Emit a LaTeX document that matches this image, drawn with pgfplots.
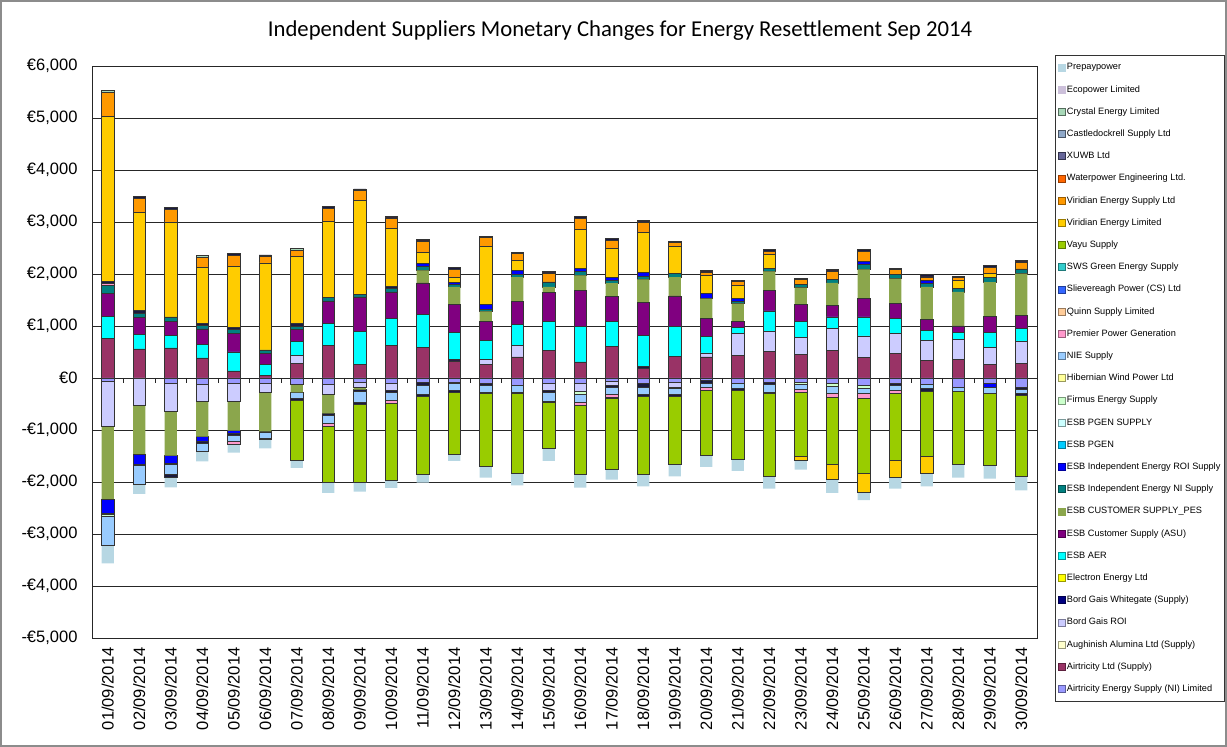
\documentclass[border=0pt]{standalone}
\usepackage{pgfplots}
\pgfplotsset{compat=1.18}
\usepackage{pgfplotstable}
\usepackage{fontspec}
\setmainfont{Liberation Sans}
\newfontfamily\titlefont{Carlito}

\definecolor{cAN}{HTML}{9999FF}
\definecolor{cAL}{HTML}{993366}
\definecolor{cAU}{HTML}{FFFFCC}
\definecolor{cBG}{HTML}{CCCCFF}
\definecolor{cBW}{HTML}{000080}
\definecolor{cEL}{HTML}{FFFF00}
\definecolor{cAER}{HTML}{00FFFF}
\definecolor{cASU}{HTML}{800080}
\definecolor{cPES}{HTML}{8BA64C}
\definecolor{cNI}{HTML}{008080}
\definecolor{cROI}{HTML}{0000FF}
\definecolor{cPG}{HTML}{00CCFF}
\definecolor{cPGS}{HTML}{CCFFFF}
\definecolor{cFI}{HTML}{CCFFCC}
\definecolor{cHI}{HTML}{FFFF99}
\definecolor{cNIE}{HTML}{99CCFF}
\definecolor{cPR}{HTML}{FF99CC}
\definecolor{cQU}{HTML}{FFCC99}
\definecolor{cSL}{HTML}{3366FF}
\definecolor{cSWS}{HTML}{33CCCC}
\definecolor{cVA}{HTML}{99CC00}
\definecolor{cVEL}{HTML}{FFCC00}
\definecolor{cVES}{HTML}{FF9900}
\definecolor{cWP}{HTML}{FF6600}
\definecolor{cXU}{HTML}{666699}
\definecolor{cCA}{HTML}{8FA8C8}
\definecolor{cCR}{HTML}{A8D8B8}
\definecolor{cEC}{HTML}{CCC0DA}
\definecolor{cPP}{HTML}{B7D7E3}
\definecolor{cDK}{HTML}{1A1A40}

\pgfplotstableread{
d AL BG DA AER ASU PES NI ROI PR DB VEL VES CR TOP
1 756 0 0 436 442 0 147 0 45 32 3173 468 25 0
2 558 0 0 288 321 0 70 0 0 64 1891 269 0 32
3 577 0 0 244 269 0 83 0 0 0 1827 244 0 32
4 385 0 0 263 295 0 64 0 0 38 1077 199 38 0
5 135 0 0 365 365 0 70 0 0 38 1173 212 0 32
6 45 0 0 212 218 0 64 0 0 0 1673 128 0 26
7 288 147 0 269 237 0 51 0 0 51 1288 122 45 0
8 628 0 0 417 436 0 64 0 0 0 1474 250 0 32
9 263 0 0 635 660 0 51 0 0 0 1808 192 0 26
10 628 0 0 513 513 0 64 0 0 51 1103 205 0 26
11 583 0 0 635 609 244 77 51 0 0 212 224 0 32
12 327 0 26 519 545 333 51 45 0 0 96 141 0 38
13 256 103 0 365 365 192 45 83 0 0 1122 167 0 32
14 404 224 0 404 442 468 51 77 0 0 192 128 0 32
15 532 0 0 558 558 103 96 0 0 0 0 173 0 32
16 308 0 0 686 692 288 77 51 0 0 750 224 0 32
17 609 0 0 487 474 256 51 51 0 0 558 160 0 32
18 192 0 32 596 628 449 58 71 0 0 769 205 0 32
19 417 0 0 577 583 365 64 0 0 0 532 64 0 26
20 404 77 0 321 340 385 0 96 0 0 353 64 0 26
21 436 417 0 115 128 333 51 58 0 0 244 77 0 19
22 513 385 0 391 397 365 64 0 0 0 256 71 0 26
23 455 321 0 314 321 327 64 0 0 0 0 90 0 19
24 532 417 0 224 218 436 71 0 0 0 0 160 0 26
25 391 417 0 365 365 551 96 58 0 0 0 192 0 32
26 468 385 0 288 288 481 83 0 0 0 0 90 0 19
27 340 385 0 192 212 622 64 64 0 0 0 64 0 51
28 359 378 0 141 122 654 64 0 0 0 160 64 0 13
29 263 333 0 276 314 660 83 0 0 0 90 115 0 32
30 288 417 0 244 256 801 90 0 0 0 0 135 0 32
}\pos

\pgfplotstableread{
d AN BG PES ROI KA FI NIE PR KB VA VEL PP
1 -64 -872 -1391 -269 -19 -51 -558 0 0 0 0 -340
2 0 -519 -942 -192 -32 0 -353 0 0 0 0 -192
3 -103 -538 -853 -147 -26 0 -192 0 -51 0 0 -192
4 -128 -327 -673 -96 -32 0 -160 0 0 0 0 -186
5 -103 -353 -558 -51 -32 0 -128 -45 0 0 0 -167
6 -103 -173 -750 0 -19 0 -109 0 -32 0 0 -167
7 -128 0 -147 0 0 0 -115 0 -45 -1141 0 -154
8 -115 -205 -359 0 -45 0 -147 -64 0 -1070 0 -205
9 -77 -96 -51 0 -38 0 -205 0 -45 -1494 0 -179
10 -96 -141 0 0 -32 0 -160 -51 -13 -1474 0 -147
11 -90 0 0 0 -51 0 -173 0 -38 -1506 0 -154
12 -77 0 0 0 -32 0 -128 0 -38 -1192 0 -128
13 -109 0 0 0 -32 0 -128 0 -32 -1397 0 -218
14 -141 0 0 0 0 0 -128 0 -32 -1526 0 -237
15 -109 -128 0 0 -38 0 -167 0 -26 -878 0 -250
16 -96 -154 0 0 0 -64 -147 -64 0 -1327 0 -256
17 -58 -83 0 0 -32 0 -141 -51 -19 -1378 0 -192
18 -109 0 0 0 -64 0 -141 0 -38 -1500 0 -231
19 -77 -96 0 0 -32 0 -109 0 -38 -1314 0 -224
20 -45 0 0 0 -51 0 -77 -64 0 -1250 0 -224
21 -96 0 0 0 0 0 -109 0 -32 -1333 0 -218
22 -77 0 0 0 -45 0 -147 0 -32 -1590 0 -237
23 -77 0 0 0 0 -45 -96 -51 0 -1237 -77 -179
24 -109 0 0 0 0 -51 -141 -64 0 -1301 -282 -263
25 -141 0 0 0 0 -51 -96 -96 0 -1442 -365 -160
26 -96 0 0 0 -45 0 -96 -51 0 -1295 -321 -224
27 -122 0 0 0 0 0 -83 0 -45 -1256 -321 -256
28 -173 0 0 0 0 0 -77 0 0 -1410 0 -256
29 -109 0 0 -77 0 0 -103 0 0 -1391 0 -256
30 -173 0 0 0 -51 0 -77 0 -32 -1558 0 -269
}\neg

\pgfplotsset{
  bb/.style={draw=black!80, line width=0.7pt},
  nb/.style={draw=none},
  common/.style={at={(92pt,109pt)}, anchor=south west, scale only axis,
    width=945pt, height=572pt, xmin=0.5, xmax=30.5, ymin=-5000, ymax=6000},
}
% legend square: fill colour, border colour
\newcommand{\legsq}[2]{\addlegendimage{legend image code/.code={\filldraw[fill=#1,draw=#2,line width=0.6pt] (0pt,-3.5pt) rectangle (7pt,3.5pt);}}}

\begin{document}
\begin{tikzpicture}
\useasboundingbox (0pt,0pt) rectangle (1227pt,747pt);
\draw[black!45, line width=1.5pt] (1pt,1pt) rectangle (1226pt,746pt);
\node[font=\titlefont\fontsize{22.7}{26}\selectfont] at (620pt,716pt) {Independent Suppliers Monetary Changes for Energy Resettlement Sep 2014};

% positive stack + axis
\begin{axis}[common,
  ybar stacked, bar width=12.3pt,
  ytick={-5000,-4000,...,6000},
  yticklabels={{-€5,000},{-€4,000},{-€3,000},{-€2,000},{-€1,000},{€0},{€1,000},{€2,000},{€3,000},{€4,000},{€5,000},{€6,000}},
  xtick={1,...,30},
  xticklabels={01/09/2014,02/09/2014,03/09/2014,04/09/2014,05/09/2014,06/09/2014,07/09/2014,08/09/2014,09/09/2014,10/09/2014,11/09/2014,12/09/2014,13/09/2014,14/09/2014,15/09/2014,16/09/2014,17/09/2014,18/09/2014,19/09/2014,20/09/2014,21/09/2014,22/09/2014,23/09/2014,24/09/2014,25/09/2014,26/09/2014,27/09/2014,28/09/2014,29/09/2014,30/09/2014},
  xticklabel style={rotate=90, anchor=east, font=\fontsize{16.5}{17}\selectfont},
  yticklabel style={font=\fontsize{16.5}{17}\selectfont},
  xticklabel shift=6pt, yticklabel shift=11pt,
  major tick length=0pt,
  ymajorgrids, grid style={black!85, line width=0.9pt},
  axis line style={black!85, line width=0.9pt},
]
\addplot[bb, fill=cAL] table[x=d,y=AL]{\pos};
\addplot[bb, fill=cBG] table[x=d,y=BG]{\pos};
\addplot[bb, fill=cDK] table[x=d,y=DA]{\pos};
\addplot[bb, fill=cAER] table[x=d,y=AER]{\pos};
\addplot[bb, fill=cASU] table[x=d,y=ASU]{\pos};
\addplot[nb, fill=cPES] table[x=d,y=PES]{\pos};
\addplot[bb, fill=cNI] table[x=d,y=NI]{\pos};
\addplot[bb, fill=cROI] table[x=d,y=ROI]{\pos};
\addplot[bb, fill=cPR] table[x=d,y=PR]{\pos};
\addplot[bb, fill=cDK] table[x=d,y=DB]{\pos};
\addplot[bb, fill=cVEL] table[x=d,y=VEL]{\pos};
\addplot[bb, fill=cVES] table[x=d,y=VES]{\pos};
\addplot[bb, fill=cCR] table[x=d,y=CR]{\pos};
\addplot[bb, fill=cDK] table[x=d,y=TOP]{\pos};
\pgfplotsinvokeforeach{1,...,29}{
  \draw[black!85, line width=0.9pt] (axis cs:#1.5,0) -- ++(0pt,-5pt);
}
\end{axis}

% negative stack
\begin{axis}[common, hide axis, ybar stacked, bar width=12.3pt]
\addplot[bb, fill=cAN] table[x=d,y=AN]{\neg};
\addplot[bb, fill=cBG] table[x=d,y=BG]{\neg};
\addplot[nb, fill=cPES] table[x=d,y=PES]{\neg};
\addplot[bb, fill=cROI] table[x=d,y=ROI]{\neg};
\addplot[bb, fill=cDK] table[x=d,y=KA]{\neg};
\addplot[bb, fill=cFI] table[x=d,y=FI]{\neg};
\addplot[bb, fill=cNIE] table[x=d,y=NIE]{\neg};
\addplot[bb, fill=cPR] table[x=d,y=PR]{\neg};
\addplot[bb, fill=cDK] table[x=d,y=KB]{\neg};
\addplot[bb, fill=cVA] table[x=d,y=VA]{\neg};
\addplot[bb, fill=cVEL] table[x=d,y=VEL]{\neg};
\addplot[nb, fill=cPP] table[x=d,y=PP]{\neg};
\end{axis}

% legend
\begin{axis}[at={(92pt,109pt)}, anchor=south west, scale only axis,
  width=945pt, height=572pt, hide axis, xmin=0, xmax=1, ymin=0, ymax=1,
  legend cell align=left,
  legend style={at={(1.019,1.0192)}, anchor=north west, draw=black!80, line width=0.8pt,
    font=\fontsize{9.2}{10}\selectfont, row sep=12.2pt, inner xsep=3pt, inner ysep=7pt,
    nodes={inner sep=1pt, text height=6.5pt, text depth=1.5pt}},
]
\legsq{cPP}{cPP}\addlegendentry{Prepaypower}
\legsq{cEC}{cEC}\addlegendentry{Ecopower Limited}
\legsq{cCR}{cCR!50!black}\addlegendentry{Crystal Energy Limited}
\legsq{cCA}{cCA!50!black}\addlegendentry{Castledockrell Supply Ltd}
\legsq{cXU}{cXU!50!black}\addlegendentry{XUWB Ltd}
\legsq{cWP}{cWP!60!black}\addlegendentry{Waterpower Engineering Ltd.}
\legsq{cVES}{cVES!60!black}\addlegendentry{Viridian Energy Supply Ltd}
\legsq{cVEL}{cVEL!60!black}\addlegendentry{Viridian Energy Limited}
\legsq{cVA}{cVA!60!black}\addlegendentry{Vayu Supply}
\legsq{cSWS}{cSWS!60!black}\addlegendentry{SWS Green Energy Supply}
\legsq{cSL}{cSL!60!black}\addlegendentry{Slievereagh Power (CS) Ltd}
\legsq{cQU}{cQU!60!black}\addlegendentry{Quinn Supply Limited}
\legsq{cPR}{cPR!60!black}\addlegendentry{Premier Power Generation}
\legsq{cNIE}{cNIE!60!black}\addlegendentry{NIE Supply}
\legsq{cHI}{cHI!60!black}\addlegendentry{Hibernian Wind Power Ltd}
\legsq{cFI}{cFI!60!black}\addlegendentry{Firmus Energy Supply}
\legsq{cPGS}{cPGS!60!black}\addlegendentry{ESB PGEN SUPPLY}
\legsq{cPG}{cPG!60!black}\addlegendentry{ESB PGEN}
\legsq{cROI}{cROI!60!black}\addlegendentry{ESB Independent Energy ROI Supply}
\legsq{cNI}{cNI!60!black}\addlegendentry{ESB Independent Energy NI Supply}
\legsq{cPES}{cPES}\addlegendentry{ESB CUSTOMER SUPPLY\_PES}
\legsq{cASU}{cASU!60!black}\addlegendentry{ESB Customer Supply (ASU)}
\legsq{cAER}{cAER!60!black}\addlegendentry{ESB AER}
\legsq{cEL}{cEL!60!black}\addlegendentry{Electron Energy Ltd}
\legsq{cBW}{cBW!60!black}\addlegendentry{Bord Gais Whitegate (Supply)}
\legsq{cBG}{cBG!60!black}\addlegendentry{Bord Gais ROI}
\legsq{cAU}{cAU!60!black}\addlegendentry{Aughinish Alumina Ltd (Supply)}
\legsq{cAL}{cAL!60!black}\addlegendentry{Airtricity Ltd (Supply)}
\legsq{cAN}{cAN!60!black}\addlegendentry{Airtricity Energy Supply (NI) Limited}
\end{axis}
\end{tikzpicture}
\end{document}
